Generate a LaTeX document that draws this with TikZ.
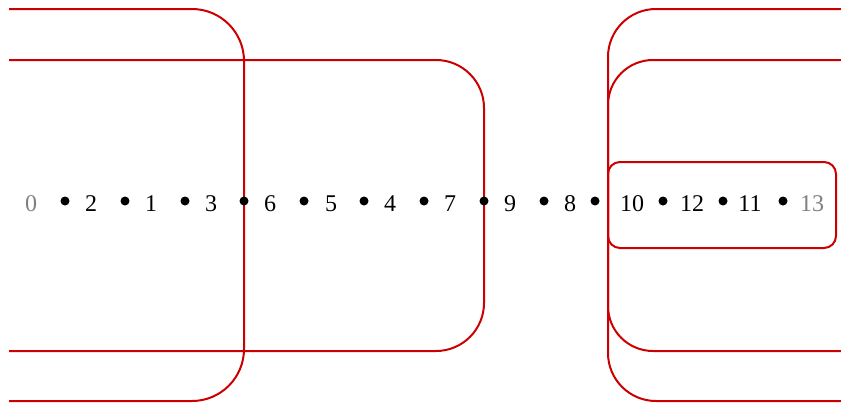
\documentclass[tikz,border=0pt]{standalone}
\usepackage{fontspec}
\setmainfont{Liberation Serif}
\definecolor{boxred}{HTML}{CC0000}
\definecolor{lblgray}{HTML}{808080}
\begin{document}
\begin{tikzpicture}[x=1pt,y=-1pt,
  frame/.style={draw=boxred,line width=2pt},
  lbl/.style={font=\fontsize{24}{24}\selectfont,inner sep=0pt,anchor=center},
  glbl/.style={lbl,text=lblgray},
  pt/.style={circle,fill=black,inner sep=0pt,minimum size=9pt}]
\useasboundingbox (0,0) rectangle (841,402);
% frames
\draw[frame,rounded corners=52pt] (9,9) -- (244,9) -- (244,401) -- (9,401);
\draw[frame,rounded corners=48pt] (9,60) -- (484,60) -- (484,351) -- (9,351);
\draw[frame,rounded corners=48pt] (841,9) -- (608,9) -- (608,401) -- (841,401);
\draw[frame,rounded corners=45pt] (841,60) -- (608,60) -- (608,351) -- (841,351);
\draw[frame,rounded corners=12pt] (608,162) rectangle (836,248);
% labels
\node[glbl] (l0) at (31,204) {0};
\node[lbl] (l2) at (91,204) {2};
\node[lbl] (l1) at (151,204) {1};
\node[lbl] (l3) at (211,204) {3};
\node[lbl] (l6) at (270,204) {6};
\node[lbl] (l5) at (331,204) {5};
\node[lbl] (l4) at (390,204) {4};
\node[lbl] (l7) at (450,204) {7};
\node[lbl] (l9) at (510,204) {9};
\node[lbl] (l8) at (570,204) {8};
\node[lbl] (l10) at (632,204) {10};
\node[lbl] (l12) at (692,204) {12};
\node[lbl] (l11) at (750,204) {11};
\node[glbl] (l13) at (812,204) {13};
% dots
\node[pt] (d1) at (65,201) {};
\node[pt] (d2) at (125,201) {};
\node[pt] (d3) at (185,201) {};
\node[pt] (d4) at (244,201) {};
\node[pt] (d5) at (304,201) {};
\node[pt] (d6) at (364,201) {};
\node[pt] (d7) at (424,201) {};
\node[pt] (d8) at (484,201) {};
\node[pt] (d9) at (544,201) {};
\node[pt] (d10) at (595,201) {};
\node[pt] (d11) at (663,201) {};
\node[pt] (d12) at (723,201) {};
\node[pt] (d13) at (783,201) {};
\end{tikzpicture}
\end{document}
